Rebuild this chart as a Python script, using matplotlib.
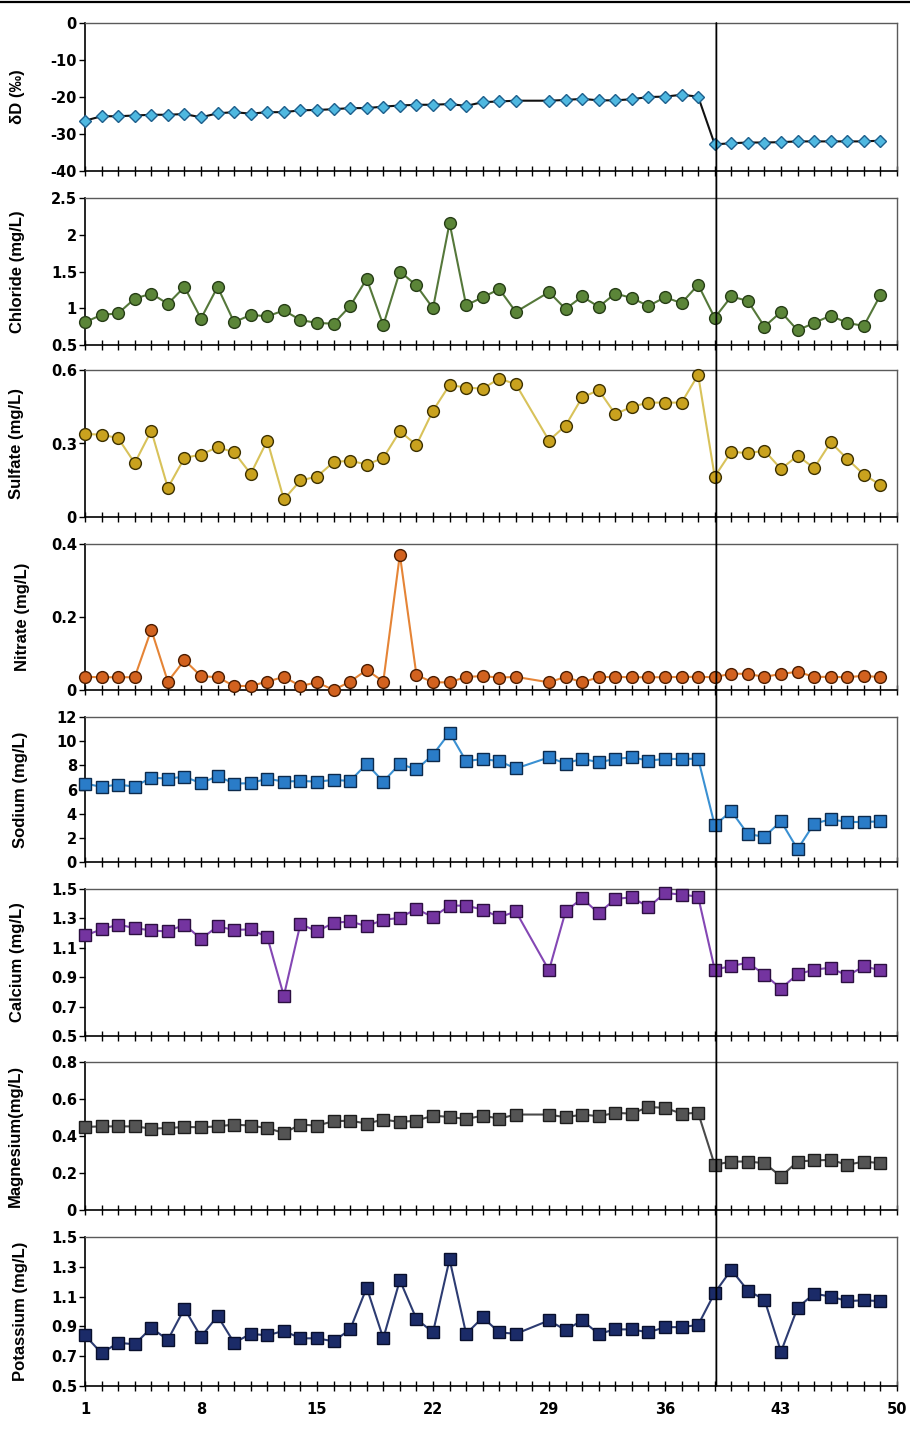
import matplotlib
matplotlib.use("Agg")
import matplotlib.pyplot as plt
from matplotlib.lines import Line2D
from matplotlib.patches import ConnectionPatch

plt.rcParams['font.family'] = ['Liberation Sans', 'DejaVu Sans']
plt.rcParams['font.weight'] = 'bold'

# ---------------- data ----------------
x_vals = list(range(1, 28)) + list(range(29, 50))

dD = [-26.4, -25.2, -25.2, -25.0, -24.8, -24.8, -24.6, -25.5, -24.4, -24.1, -24.5, -24.1, -24.1, -23.6,
      -23.5, -23.3, -23.0, -23.0, -22.6, -22.3, -22.1, -22.1, -21.9, -22.4, -21.4, -21.2, -21.0,
      -21.0, -20.8, -20.5, -20.9, -20.9, -20.6, -20.0, -19.9, -19.4, -19.9, -32.8, -32.5, -32.3,
      -32.3, -32.2, -32.0, -32.0, -32.0, -32.0, -32.0, -31.8]
chloride = [0.81, 0.91, 0.93, 1.13, 1.20, 1.06, 1.29, 0.86, 1.29, 0.81, 0.91, 0.89, 0.97, 0.84,
            0.80, 0.79, 1.03, 1.40, 0.77, 1.50, 1.31, 1.00, 2.16, 1.04, 1.15, 1.26, 0.95,
            1.22, 0.99, 1.16, 1.02, 1.20, 1.14, 1.03, 1.15, 1.07, 1.32, 0.87, 1.16, 1.10,
            0.75, 0.95, 0.70, 0.80, 0.90, 0.80, 0.76, 1.18]
sulfate = [0.339, 0.336, 0.322, 0.220, 0.352, 0.119, 0.241, 0.255, 0.285, 0.264, 0.176, 0.312, 0.072,
           0.149, 0.165, 0.224, 0.230, 0.214, 0.241, 0.350, 0.294, 0.434, 0.539, 0.528, 0.524, 0.565,
           0.542, 0.312, 0.373, 0.488, 0.518, 0.420, 0.450, 0.467, 0.467, 0.467, 0.580, 0.165,
           0.267, 0.260, 0.271, 0.196, 0.250, 0.200, 0.305, 0.237, 0.173, 0.131]
nitrate = [0.036, 0.035, 0.035, 0.035, 0.165, 0.023, 0.082, 0.038, 0.035, 0.011, 0.011, 0.023, 0.036,
           0.011, 0.021, 0.000, 0.023, 0.055, 0.023, 0.371, 0.041, 0.021, 0.021, 0.036, 0.038, 0.034,
           0.036, 0.021, 0.036, 0.021, 0.035, 0.036, 0.035, 0.035, 0.035, 0.036, 0.036, 0.035,
           0.045, 0.044, 0.036, 0.044, 0.050, 0.036, 0.036, 0.035, 0.039, 0.035]
sodium = [6.49, 6.22, 6.41, 6.24, 6.98, 6.90, 7.06, 6.52, 7.11, 6.49, 6.52, 6.90, 6.65, 6.71,
          6.65, 6.79, 6.71, 8.12, 6.65, 8.12, 7.66, 8.88, 10.70, 8.34, 8.53, 8.34, 7.74,
          8.66, 8.15, 8.55, 8.25, 8.53, 8.66, 8.39, 8.53, 8.53, 8.55, 3.04, 4.21, 2.31,
          2.09, 3.37, 1.06, 3.18, 3.53, 3.31, 3.31, 3.37]
calcium = [1.184, 1.225, 1.258, 1.234, 1.218, 1.211, 1.258, 1.161, 1.245, 1.222, 1.225, 1.173, 0.773,
           1.263, 1.211, 1.270, 1.279, 1.247, 1.290, 1.304, 1.365, 1.308, 1.387, 1.387, 1.360, 1.308,
           1.347, 0.947, 1.347, 1.437, 1.335, 1.432, 1.444, 1.376, 1.473, 1.462, 1.448, 0.951,
           0.976, 0.999, 0.918, 0.823, 0.920, 0.951, 0.965, 0.909, 0.974, 0.947]
magnesium = [0.449, 0.452, 0.452, 0.452, 0.440, 0.443, 0.449, 0.447, 0.452, 0.462, 0.456, 0.443, 0.416,
             0.462, 0.456, 0.480, 0.483, 0.467, 0.489, 0.476, 0.483, 0.510, 0.503, 0.492, 0.510, 0.494,
             0.516, 0.516, 0.501, 0.516, 0.507, 0.525, 0.521, 0.557, 0.552, 0.521, 0.525, 0.244,
             0.262, 0.262, 0.253, 0.181, 0.262, 0.268, 0.271, 0.244, 0.262, 0.253]
potassium = [0.84, 0.72, 0.79, 0.78, 0.89, 0.81, 1.02, 0.83, 0.97, 0.79, 0.85, 0.84, 0.87, 0.82,
             0.82, 0.80, 0.88, 1.16, 0.82, 1.21, 0.95, 0.86, 1.35, 0.85, 0.96, 0.86, 0.85,
             0.94, 0.875, 0.94, 0.85, 0.88, 0.88, 0.86, 0.895, 0.895, 0.91, 1.125, 1.28, 1.14,
             1.08, 0.73, 1.025, 1.12, 1.10, 1.07, 1.075, 1.07]

y_labels = ['δD (‰)', 'Chloride (mg/L)', 'Sulfate (mg/L)', 'Nitrate (mg/L)',
            'Sodium (mg/L)', 'Calcium (mg/L)', 'Magnesium(mg/L)', 'Potassium (mg/L)']
y_ticks = [[-40, -30, -20, -10, 0],
           [0.5, 1, 1.5, 2, 2.5],
           [0, 0.3, 0.6],
           [0, 0.2, 0.4],
           [0, 2, 4, 6, 8, 10, 12],
           [0.5, 0.7, 0.9, 1.1, 1.3, 1.5],
           [0, 0.2, 0.4, 0.6, 0.8],
           [0.5, 0.7, 0.9, 1.1, 1.3, 1.5]]
y_tick_labels = [['-40', '-30', '-20', '-10', '0'],
                 ['0.5', '1', '1.5', '2', '2.5'],
                 ['0', '0.3', '0.6'],
                 ['0', '0.2', '0.4'],
                 ['0', '2', '4', '6', '8', '10', '12'],
                 ['0.5', '0.7', '0.9', '1.1', '1.3', '1.5'],
                 ['0', '0.2', '0.4', '0.6', '0.8'],
                 ['0.5', '0.7', '0.9', '1.1', '1.3', '1.5']]
x_tick_labels = ['1', '8', '15', '22', '29', '36', '43', '50']
boundary_sample = 39.1

series = [dD, chloride, sulfate, nitrate, sodium, calcium, magnesium, potassium]

# ---------------- styles ----------------
styles = [
    dict(marker='D', ms=6.5, mfc='#4fb8e0', mec='#1d5f8c', color='#111111'),
    dict(marker='o', ms=8.5, mfc='#5b8538', mec='#263d16', color='#55783a'),
    dict(marker='o', ms=8.5, mfc='#c9a21e', mec='#3c3000', color='#d8c25a'),
    dict(marker='o', ms=8.5, mfc='#d2621f', mec='#4a1c00', color='#e58436'),
    dict(marker='s', ms=8.3, mfc='#2a7cc8', mec='#0c2a4c', color='#3a90d2'),
    dict(marker='s', ms=8.3, mfc='#7434a0', mec='#2c0f40', color='#8447b4'),
    dict(marker='s', ms=8.3, mfc='#545454', mec='#1c1c1c', color='#4a4a4a'),
    dict(marker='s', ms=8.3, mfc='#1b2b68', mec='#080f2c', color='#2d3c72'),
]
label_x_px = [25, 25, 24, 30, 28, 25, 23, 28]
panels_px = [(23, 171), (198, 345), (370, 517), (544, 690),
             (717, 862), (889, 1036), (1062, 1210), (1237, 1386)]

tick_font = dict(family=['DejaVu Sans'], size=10.5, weight='bold')

W, H = 910, 1440
fig = plt.figure(figsize=(W / 100, H / 100), dpi=100)
left_px, right_px = 85, 897

axes = []
for i, (top, bot) in enumerate(panels_px):
    ax = fig.add_axes([left_px / W, 1 - bot / H, (right_px - left_px) / W, (bot - top) / H])
    axes.append(ax)
    st = styles[i]
    ax.plot(x_vals, series[i], linestyle='-', linewidth=1.5, color=st['color'],
            marker=st['marker'], markersize=st['ms'], markerfacecolor=st['mfc'],
            markeredgecolor=st['mec'], markeredgewidth=1.0, clip_on=False, zorder=3)
    yt = y_ticks[i]
    ax.set_ylim(yt[0], yt[-1])
    ax.set_yticks(yt)
    ax.set_yticklabels(y_tick_labels[i], fontdict=tick_font)
    ax.set_xlim(1, 50)
    if i == len(panels_px) - 1:
        ax.set_xticks(range(1, 51, 7))
        ax.set_xticklabels(x_tick_labels, fontdict=tick_font)
        ax.set_xticks(range(1, 51), minor=True)
    else:
        ax.set_xticks(range(1, 51))
        ax.set_xticklabels([])
    ax.tick_params(axis='x', which='both', direction='inout', length=6.5, width=1.0,
                   color='black', top=False, pad=8)
    ax.tick_params(axis='y', direction='out', length=4.3, width=1.0, color='black', pad=1.5)
    for s in ['top', 'right']:
        ax.spines[s].set_color('#5a5a5a')
        ax.spines[s].set_linewidth(1.0)
    ax.spines['left'].set_color('black')
    ax.spines['left'].set_linewidth(1.2)
    ax.spines['bottom'].set_color('black')
    ax.spines['bottom'].set_linewidth(1.2)
    ax.set_ylabel(y_labels[i], fontsize=12, fontweight='bold')
    ax.yaxis.set_label_coords((label_x_px[i] - left_px) / (right_px - left_px), 0.5)

# vertical separator across all panels
con = ConnectionPatch(xyA=(boundary_sample, 1), coordsA=axes[0].get_xaxis_transform(),
                      xyB=(boundary_sample, 0), coordsB=axes[-1].get_xaxis_transform(),
                      color='black', linewidth=1.3, zorder=10)
fig.add_artist(con)

# top border line
fig.add_artist(Line2D([0, 1], [1 - 2 / H, 1 - 2 / H], color='black', linewidth=1.6))

fig.savefig('out.png', dpi=100)
